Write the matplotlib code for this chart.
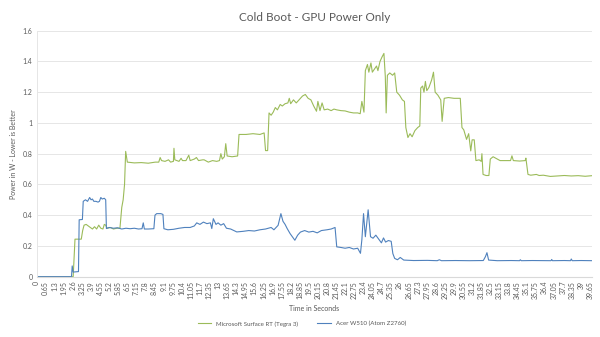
import matplotlib.pyplot as plt
import numpy as np

# Surface RT (Tegra 3) GPU power, (time s, watts) read at change points
surface_t = [0, 2.62, 2.75, 3.2, 3.3, 3.4, 3.55, 3.7, 3.85, 4.0, 4.15, 4.3, 4.45, 4.6,
             4.75, 4.85, 4.95, 5.05, 5.3, 5.5, 5.75, 5.97, 6.1, 6.2, 6.3, 6.38, 6.5,
             7.0, 7.5, 8.0, 8.5, 8.75, 8.85, 8.95, 9.2, 9.45, 9.6, 9.8, 9.84, 9.9,
             10.2, 10.35, 10.45, 10.7, 10.9, 11.0, 11.3, 11.45, 11.6, 11.9, 12.0, 12.3,
             12.6, 12.9, 13.1, 13.2, 13.3, 13.45, 13.55, 13.65, 14.0, 14.4, 14.5, 15.0,
             15.5, 16.0, 16.3, 16.4, 16.55, 16.65, 16.8, 16.95, 17.1, 17.25, 17.45,
             17.6, 17.8, 18.0, 18.1, 18.2, 18.4, 18.6, 18.8, 19.05, 19.25, 19.45, 19.65,
             19.85, 20.05, 20.15, 20.3, 20.45, 20.6, 20.85, 21.1, 21.3, 21.5, 21.8,
             22.1, 22.4, 22.7, 23.0, 23.18, 23.3, 23.45, 23.55, 23.7, 23.8, 23.95,
             24.05, 24.2, 24.35, 24.45, 24.6, 24.75, 24.88, 24.98, 25.04, 25.13, 25.3,
             25.5, 25.65, 25.8, 26.0, 26.2, 26.35, 26.45, 26.6, 26.75, 26.9, 27.1,
             27.3, 27.45, 27.52, 27.65, 27.75, 27.85, 27.95, 28.1, 28.3, 28.43, 28.55,
             28.75, 28.95, 29.05, 29.2, 29.5, 29.9, 30.35, 30.47, 30.6, 30.7, 30.8,
             30.95, 31.1, 31.2, 31.35, 31.47, 31.7, 31.85, 31.9, 31.98, 32.2, 32.4,
             32.5, 32.7, 32.9, 33.2, 33.6, 33.95, 34.05, 34.15, 34.6, 35.0, 35.05,
             35.2, 35.4, 35.8, 36.0, 36.3, 36.8, 37.3, 37.8, 38.3, 38.8, 39.3, 39.8]
surface_w = [0, 0, 0.244, 0.244, 0.30, 0.335, 0.34, 0.33, 0.32, 0.31, 0.325, 0.31,
             0.335, 0.315, 0.31, 0.34, 0.335, 0.315, 0.32, 0.31, 0.315, 0.315, 0.45,
             0.5, 0.6, 0.815, 0.745, 0.74, 0.742, 0.738, 0.745, 0.745, 0.775, 0.755,
             0.75, 0.76, 0.745, 0.75, 0.835, 0.76, 0.75, 0.77, 0.755, 0.755, 0.79,
             0.755, 0.765, 0.775, 0.755, 0.76, 0.76, 0.745, 0.755, 0.75, 0.755, 0.80,
             0.765, 0.78, 0.865, 0.785, 0.78, 0.785, 0.925, 0.925, 0.93, 0.925, 0.935,
             0.82, 0.82, 1.065, 1.05, 1.07, 1.1, 1.085, 1.12, 1.11, 1.125, 1.13, 1.16,
             1.125, 1.15, 1.13, 1.15, 1.175, 1.185, 1.16, 1.15, 1.11, 1.076, 1.14,
             1.08, 1.13, 1.085, 1.09, 1.08, 1.09, 1.085, 1.08, 1.078, 1.07, 1.065,
             1.065, 1.06, 1.14, 1.07, 1.34, 1.38, 1.33, 1.39, 1.33, 1.35, 1.37, 1.34,
             1.4, 1.43, 1.452, 1.3, 1.065, 1.31, 1.325, 1.31, 1.325, 1.2, 1.18, 1.15,
             1.14, 0.97, 0.905, 0.93, 0.91, 0.95, 0.97, 0.98, 1.227, 1.24, 1.2, 1.27,
             1.21, 1.23, 1.28, 1.33, 1.2, 1.18, 1.15, 1.01, 1.16, 1.165, 1.16, 1.16,
             0.97, 0.955, 0.925, 0.893, 0.93, 0.818, 0.89, 0.89, 0.755, 0.76, 0.75,
             0.8, 0.665, 0.658, 0.658, 0.765, 0.78, 0.77, 0.755, 0.755, 0.755, 0.786,
             0.755, 0.752, 0.755, 0.771, 0.665, 0.66, 0.665, 0.658, 0.66, 0.652,
             0.655, 0.658, 0.655, 0.657, 0.653, 0.657]

# Acer W510 (Atom Z2760) GPU power
acer_t = [0, 2.5, 2.55, 2.62, 3.0, 3.05, 3.28, 3.34, 3.5, 3.65, 3.8, 3.9, 4.0, 4.1,
          4.25, 4.4, 4.5, 4.6, 4.7, 4.85, 4.95, 5.0, 5.2, 5.5, 5.8, 6.1, 6.4, 6.7,
          7.0, 7.3, 7.55, 7.64, 7.72, 8.0, 8.4, 8.48, 8.6, 8.9, 9.05, 9.12, 9.4,
          9.8, 10.2, 10.6, 11.0, 11.3, 11.47, 11.7, 11.95, 12.2, 12.45, 12.55,
          12.66, 12.85, 13.0, 13.2, 13.4, 13.6, 13.9, 14.34, 14.8, 15.2, 15.6, 16.0,
          16.4, 16.8, 17.0, 17.3, 17.5, 17.65, 17.8, 17.95, 18.16, 18.5, 18.7, 18.9,
          19.2, 19.5, 19.8, 20.1, 20.4, 20.8, 21.1, 21.38, 21.5, 21.8, 22.1, 22.4,
          22.7, 23.0, 23.2, 23.3, 23.42, 23.55, 23.75, 23.92, 24.1, 24.3, 24.5,
          24.7, 24.85, 25.0, 25.2, 25.4, 25.52, 25.65, 25.85, 26.05, 26.3, 27.0,
          28.0, 28.7, 28.85, 29.0, 30.0, 31.0, 32.0, 32.15, 32.26, 32.38, 33.0,
          34.0, 34.6, 34.65, 34.72, 35.5, 36.5, 36.85, 36.9, 36.95, 37.8, 38.25,
          38.3, 38.37, 39.0, 39.8]
acer_w = [0, 0, 0.07, 0.03, 0.033, 0.37, 0.372, 0.49, 0.5, 0.49, 0.515, 0.5, 0.505,
          0.49, 0.49, 0.485, 0.49, 0.515, 0.505, 0.51, 0.5, 0.313, 0.32, 0.315,
          0.318, 0.31, 0.315, 0.312, 0.315, 0.31, 0.312, 0.35, 0.31, 0.31, 0.312,
          0.40, 0.41, 0.41, 0.405, 0.312, 0.305, 0.308, 0.315, 0.32, 0.32, 0.33,
          0.35, 0.34, 0.355, 0.345, 0.35, 0.313, 0.377, 0.34, 0.35, 0.335, 0.345,
          0.315, 0.31, 0.291, 0.295, 0.30, 0.297, 0.305, 0.31, 0.32, 0.305, 0.334,
          0.41, 0.36, 0.34, 0.313, 0.28, 0.237, 0.27, 0.29, 0.30, 0.29, 0.295,
          0.285, 0.3, 0.305, 0.31, 0.32, 0.194, 0.19, 0.185, 0.19, 0.18, 0.185,
          0.152, 0.24, 0.41, 0.26, 0.435, 0.26, 0.25, 0.27, 0.245, 0.22, 0.252,
          0.225, 0.235, 0.23, 0.15, 0.119, 0.11, 0.125, 0.108, 0.105, 0.106, 0.104,
          0.11, 0.104, 0.105, 0.104, 0.105, 0.13, 0.156, 0.108, 0.104, 0.105, 0.104,
          0.11, 0.104, 0.105, 0.104, 0.104, 0.112, 0.104, 0.105, 0.104, 0.115,
          0.104, 0.105, 0.104]

# category labels on the time axis, one every 0.65 s
tick_times = np.round(np.arange(0, 39.66, 0.65), 2)
tick_labels = [f"{v:g}" for v in tick_times]

plt.rcParams['font.family'] = ['Lato', 'DejaVu Sans']
grey = '#595959'

fig = plt.figure(figsize=(6, 3.37), dpi=100)
ax = fig.add_axes([0.061, 0.179, 0.926, 0.73])

ax.plot(surface_t, surface_w, color='#9BBB59', lw=0.8,
        label='Microsoft Surface RT (Tegra 3)')
ax.plot(acer_t, acer_w, color='#4F81BD', lw=0.8,
        label='Acer W510 (Atom Z2760)')

ax.set_xlim(0, 39.8)
ax.set_ylim(0, 1.6)
ax.set_yticks(np.arange(0, 1.61, 0.2))
ax.set_yticklabels(['0', '0.2', '0.4', '0.6', '0.8', '1', '1.2', '1.4', '1.6'])
ax.set_xticks(tick_times)
ax.set_xticklabels(tick_labels, rotation=90)
ax.tick_params(axis='both', length=0, labelsize=5, colors=grey, pad=3)
ax.grid(axis='y', color='#e6e6e6', lw=0.7)
ax.set_axisbelow(True)
for side in ['top', 'right']:
    ax.spines[side].set_visible(False)
ax.spines['bottom'].set_color('#d9d9d9')
ax.spines['left'].set_color('#e6e6e6')
ax.spines['left'].set_linewidth(0.7)

ax.set_title('Cold Boot - GPU Power Only', fontsize=8.5, color=grey, pad=7)
ax.set_ylabel('Power in W - Lower is Better', fontsize=5, color=grey, labelpad=4)
ax.set_xlabel('Time in Seconds', fontsize=5, color=grey, labelpad=4)

fig.legend(loc='center', bbox_to_anchor=(0.503, 0.039), ncol=2, frameon=False,
           fontsize=4.4, handlelength=2.2, columnspacing=3.2, labelcolor=grey)

fig.savefig('out.png', dpi=100)
